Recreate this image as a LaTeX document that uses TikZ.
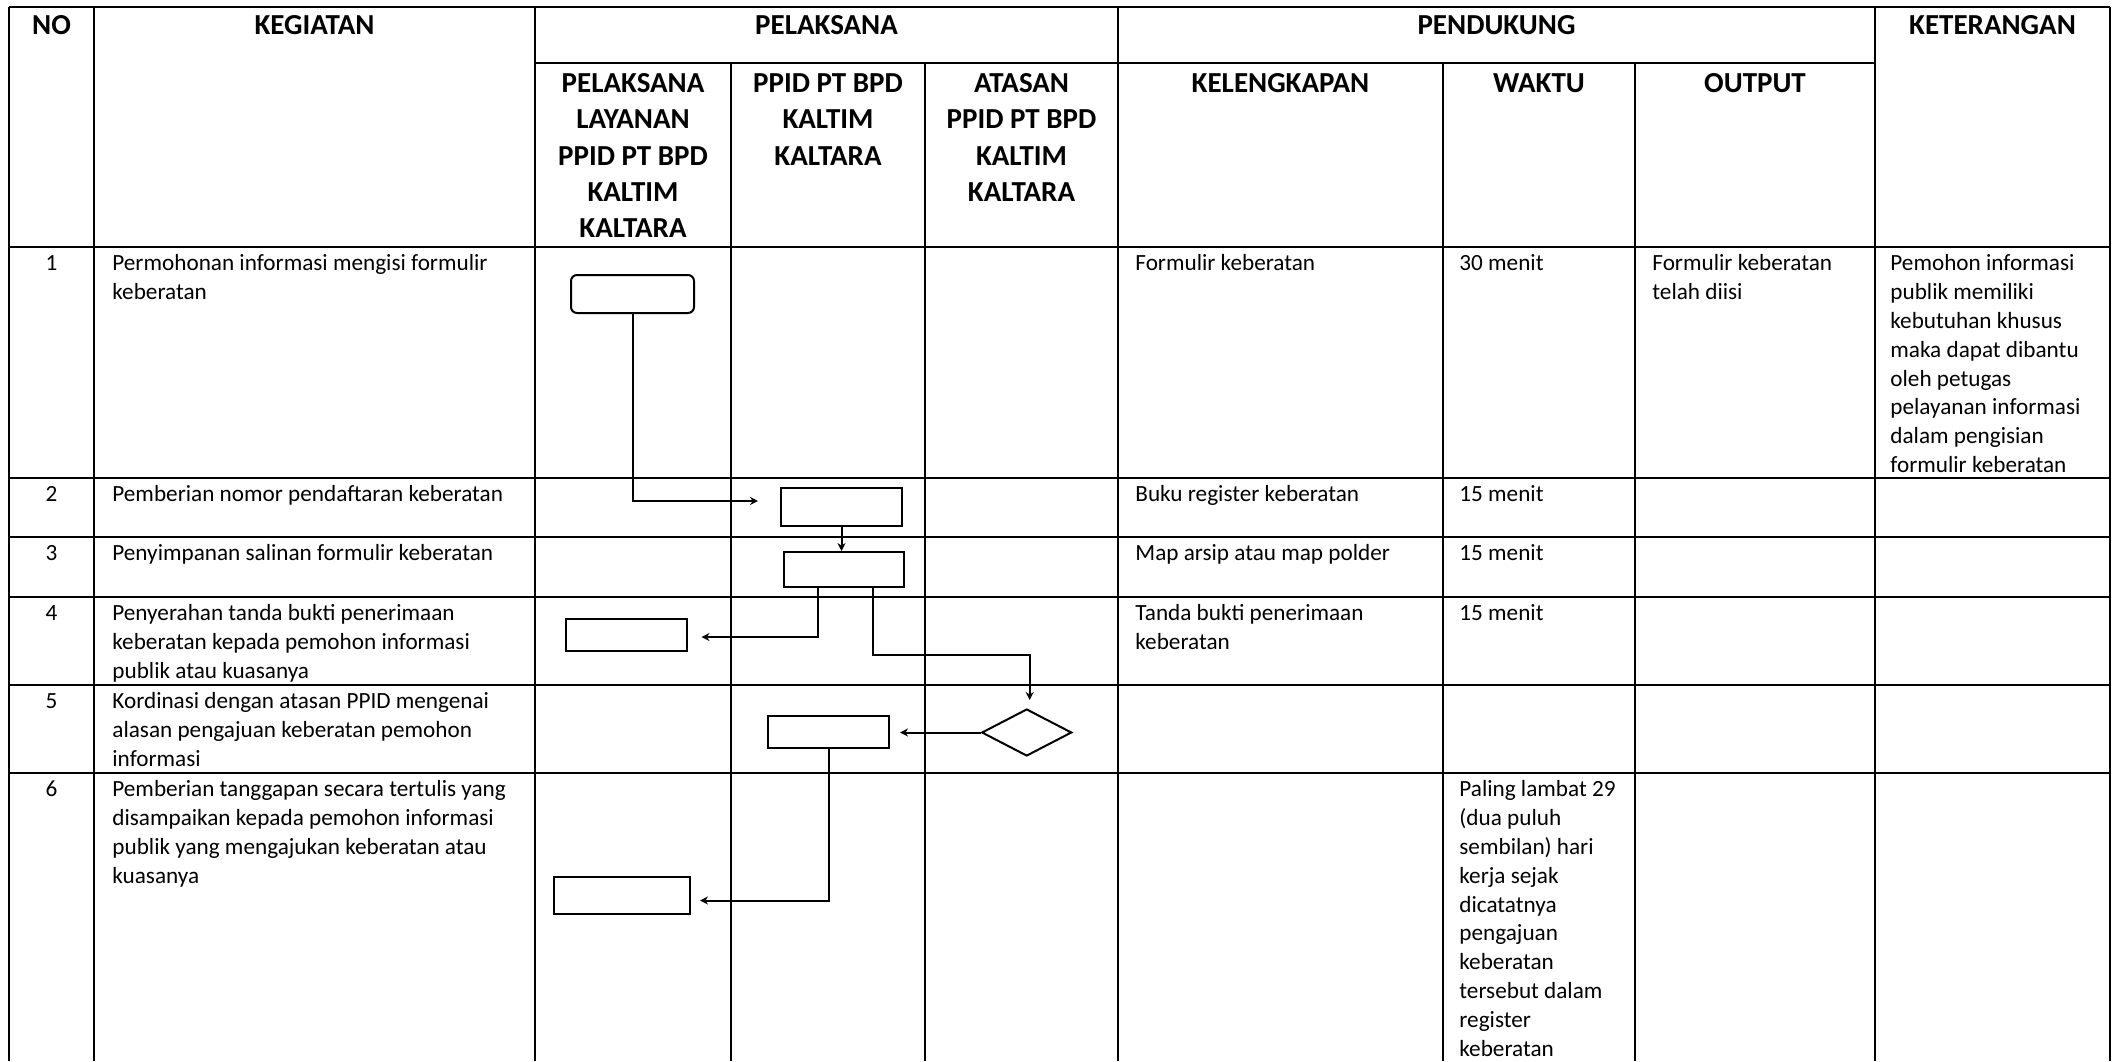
\documentclass[tikz,border=0pt]{standalone}
\usepackage{fontspec}
\setmainfont{Carlito}
\usetikzlibrary{calc,shapes.geometric,arrows.meta}

\begin{document}
\begin{tikzpicture}[x=0.5pt,y=-0.5pt,
    grid/.style={line width=1pt},
    hd/.style={font=\fontsize{14.5}{18.15}\selectfont\bfseries,align=center,anchor=north,inner sep=0pt,yshift=12.7pt},
    txt/.style={font=\fontsize{11.6}{14.45}\selectfont,align=left,anchor=north west,inner sep=0pt,yshift=10.1pt},
    num/.style={txt,anchor=north},
    proc/.style={draw,line width=1pt,inner sep=0pt,minimum width=60.5pt,minimum height=16pt},
    dec/.style={draw,diamond,line width=1pt,inner sep=0pt,minimum width=45pt,minimum height=23.5pt},
    arr/.style={line width=1pt,-{Stealth[length=4pt,width=4pt]}}]
\useasboundingbox (0,0) rectangle (2114,1061);

% table lines
\draw[grid] (9,6.7) -- (2110,6.7);
\draw[grid] (535,63) -- (1875,63);
\foreach \y in {246.7,478,537,597,685,773} \draw[grid] (9,\y) -- (2110,\y);
\foreach \x in {9,94,535,1118,1875,2110} \draw[grid] (\x,6.7) -- (\x,1061);
\foreach \x in {731,925,1443,1635} \draw[grid] (\x,63) -- (\x,1061);

% header
\node[hd] (hNo) at (51.5,34) {\strut NO};
\node[hd] (hKeg) at (314.5,34) {\strut KEGIATAN};
\node[hd] (hPel) at (826.5,34) {\strut PELAKSANA};
\node[hd] (hPen) at (1496.5,34) {\strut PENDUKUNG};
\node[hd] (hKet) at (1992.5,34) {\strut KETERANGAN};
\node[hd] (hLay) at (633,92) {\strut PELAKSANA\\LAYANAN\\PPID PT BPD\\KALTIM\\KALTARA};
\node[hd] (hPpid) at (828,92) {\strut PPID PT BPD\\KALTIM\\KALTARA};
\node[hd] (hAts) at (1021.5,92) {\strut ATASAN\\PPID PT BPD\\KALTIM\\KALTARA};
\node[hd] (hKel) at (1280.5,92) {\strut KELENGKAPAN};
\node[hd] (hWkt) at (1539,92) {\strut WAKTU};
\node[hd] (hOut) at (1755,92) {\strut OUTPUT};

% row 1
\node[num] (n1) at (51.5,270) {\strut 1};
\node[txt] (k1) at (112,270) {\strut Permohonan informasi mengisi formulir\\keberatan};
\node[txt] (l1) at (1135,270) {\strut Formulir keberatan};
\node[txt] (w1) at (1459,270) {\strut 30 menit};
\node[txt] (o1) at (1652,270) {\strut Formulir keberatan\\telah diisi};
\node[txt] (r1) at (1890,270) {\strut Pemohon informasi\\publik memiliki\\kebutuhan khusus\\maka dapat dibantu\\oleh petugas\\pelayanan informasi\\dalam pengisian\\formulir keberatan};
% row 2
\node[num] (n2) at (51.5,501) {\strut 2};
\node[txt] (k2) at (112,501) {\strut Pemberian nomor pendaftaran keberatan};
\node[txt] (l2) at (1135,501) {\strut Buku register keberatan};
\node[txt] (w2) at (1459,501) {\strut 15 menit};
% row 3
\node[num] (n3) at (51.5,560) {\strut 3};
\node[txt] (k3) at (112,560) {\strut Penyimpanan salinan formulir keberatan};
\node[txt] (l3) at (1135,560) {\strut Map arsip atau map polder};
\node[txt] (w3) at (1459,560) {\strut 15 menit};
% row 4
\node[num] (n4) at (51.5,620) {\strut 4};
\node[txt] (k4) at (112,620) {\strut Penyerahan tanda bukti penerimaan\\keberatan kepada pemohon informasi\\publik atau kuasanya};
\node[txt] (l4) at (1135,620) {\strut Tanda bukti penerimaan\\keberatan};
\node[txt] (w4) at (1459,620) {\strut 15 menit};
% row 5
\node[num] (n5) at (51.5,708) {\strut 5};
\node[txt] (k5) at (112,708) {\strut Kordinasi dengan atasan PPID mengenai\\alasan pengajuan keberatan pemohon\\informasi};
% row 6
\node[num] (n6) at (51.5,796) {\strut 6};
\node[txt] (k6) at (112,796) {\strut Pemberian tanggapan secara tertulis yang\\disampaikan kepada pemohon informasi\\publik yang mengajukan keberatan atau\\kuasanya};
\node[txt] (w6) at (1459,796) {\strut Paling lambat 29\\(dua puluh\\sembilan) hari\\kerja sejak\\dicatatnya\\pengajuan\\keberatan\\tersebut dalam\\register\\keberatan};

% flow
\node[proc,rounded corners=3pt,minimum width=61.5pt,minimum height=19pt] (b1) at (632.5,294) {};
\node[proc,minimum height=19pt] (b2) at (841.5,507) {};
\node[proc,minimum width=60pt,minimum height=17.5pt] (b3) at (844,569.5) {};
\node[proc] (b4) at (626,635) {};
\node[dec] (dm) at (1026.7,732.5) {};
\node[proc] (b5) at (828.5,732) {};
\node[proc,minimum width=68pt,minimum height=18.5pt] (b6) at (622,895.5) {};

\coordinate (e2) at ($(b2.west)+(-22,-6)$);
\draw[arr] (b1.south) |- (e2);
\draw[arr] (b2.south) -- (b2.south |- b3.north);
\coordinate (s3a) at ($(b3.south west)+(35,0)$);
\coordinate (e4) at ($(b4.east)+(14,2)$);
\draw[arr] (s3a) |- (e4);
\coordinate (s3b) at ($(b3.south west)+(90,0)$);
\coordinate (e5) at ($(dm.north)+(3,-8)$);
\draw[arr] (s3b) |- ($(e5)+(0,-45)$) -- (e5);
\coordinate (e6) at ($(b5.east)+(10,0)$);
\draw[arr] (dm.west) -- (dm.west -| e6);
\coordinate (e7) at ($(b6.east)+(9,5)$);
\draw[arr] (b5.south) |- (e7);
\end{tikzpicture}
\end{document}
